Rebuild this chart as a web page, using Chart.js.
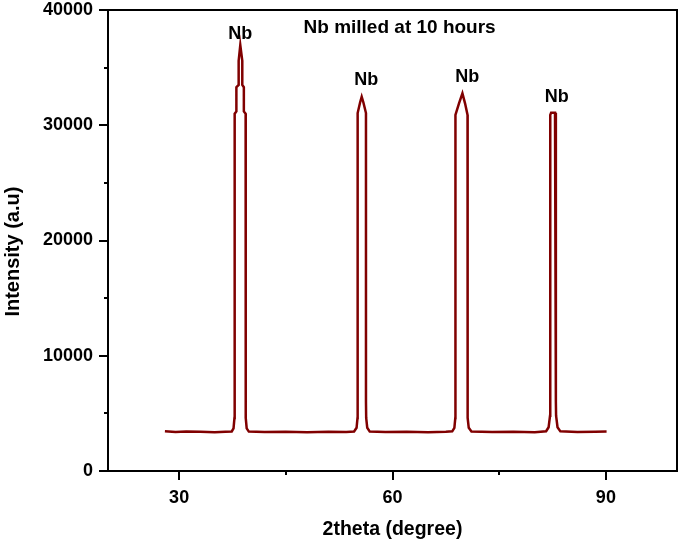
<!DOCTYPE html>
<html>
<head>
<meta charset="utf-8">
<script src="https://cdn.jsdelivr.net/npm/chart.js@4"></script>
<style>
  html, body { margin: 0; padding: 0; background: #fff; }
  #xrd { display: block; }
</style>
</head>
<body>
<canvas id="xrd" width="681" height="541"></canvas>
<script>
// XRD pattern, values
const twoTheta = [
  28.0, 29.5, 31.0, 33.0, 35.0, 36.5, 37.4, 37.65, 37.78, 37.81,
  37.81, 38.05, 38.05, 38.37, 38.37, 38.6, 38.88, 38.88, 39.1, 39.1,
  39.35, 39.35, 39.38, 39.5, 39.8, 42.0, 45.0, 48.0, 51.0, 53.5,
  54.6, 54.95, 55.08, 55.1, 55.1, 55.45, 55.67, 55.9, 56.27, 56.27,
  56.3, 56.45, 56.8, 59.0, 62.0, 65.0, 67.5, 68.4, 68.7, 68.83,
  68.85, 68.85, 69.35, 69.83, 70.2, 70.55, 70.55, 70.58, 70.72, 71.1,
  74.0, 77.0, 80.0, 81.6, 81.95, 82.15, 82.18, 82.18, 82.3, 82.85,
  82.97, 82.97, 83.0, 83.2, 83.6, 86.0, 88.5, 90.1
];
const intensity = [
  3450, 3380, 3420, 3400, 3370, 3410, 3430, 3700, 4600, 6000,
  31000, 31200, 33300, 33500, 35600, 36960, 35600, 33500, 33300, 31200,
  31000, 6000, 4600, 3700, 3420, 3380, 3400, 3360, 3410, 3390,
  3430, 3750, 4600, 6000, 31060, 32000, 32480, 32000, 31060, 6000,
  4600, 3750, 3420, 3380, 3400, 3370, 3410, 3440, 3750, 4600,
  6000, 30890, 31900, 32770, 31900, 30890, 6000, 4600, 3750, 3430,
  3380, 3400, 3370, 3450, 3800, 4800, 6000, 30900, 31090, 31090,
  30900, 6000, 4800, 3800, 3440, 3390, 3400, 3420
];

const xMajorTicks = [30, 60, 90];
const xMinorTicks = [45, 75];
const yMajorTicks = [0, 10000, 20000, 30000, 40000];
const yMinorTicks = [5000, 15000, 25000, 35000];

// text inside the plot, placed in data units
const noteText = ['Nb', 'Nb', 'Nb', 'Nb', 'Nb milled at 10 hours'];
const noteX = [38.6, 56.3, 70.5, 83.1, 61.0];
const noteY = [37900, 33930, 34190, 32450, 38440];

const FONT = '"Liberation Sans", Arial, sans-serif';

const points = twoTheta.map((t, i) => ({ x: t, y: intensity[i] }));

// frame, tick marks and notes
const framePlugin = {
  id: 'frame',
  afterDraw(chart) {
    const { ctx, chartArea: a } = chart;
    const xs = chart.scales.x, ys = chart.scales.y;
    ctx.save();
    ctx.strokeStyle = '#000';
    ctx.lineWidth = 2;
    ctx.strokeRect(a.left, a.top, a.right - a.left, a.bottom - a.top);

    ctx.beginPath();
    yMajorTicks.concat(yMinorTicks).forEach(v => {
      const len = yMajorTicks.includes(v) ? 9 : 4;
      const py = Math.round(ys.getPixelForValue(v));
      ctx.moveTo(a.left - len, py);
      ctx.lineTo(a.left, py);
    });
    xMajorTicks.concat(xMinorTicks).forEach(v => {
      const len = xMajorTicks.includes(v) ? 9 : 4;
      const px = Math.round(xs.getPixelForValue(v));
      ctx.moveTo(px, a.bottom);
      ctx.lineTo(px, a.bottom + len);
    });
    ctx.stroke();

    ctx.fillStyle = '#000';
    ctx.textAlign = 'center';
    ctx.textBaseline = 'middle';
    noteText.forEach((txt, i) => {
      ctx.font = (i === 4 ? 'bold 19px ' : 'bold 18px ') + FONT;
      ctx.fillText(txt, xs.getPixelForValue(noteX[i]), ys.getPixelForValue(noteY[i]));
    });
    ctx.restore();
  }
};

new Chart(document.getElementById('xrd'), {
  type: 'line',
  data: {
    datasets: [{
      data: points,
      borderColor: '#800000',
      borderWidth: 2.5,
      pointRadius: 0,
      tension: 0,
      fill: false
    }]
  },
  options: {
    responsive: false,
    animation: false,
    layout: { padding: { top: 10, right: 4, left: 0, bottom: 0 } },
    plugins: { legend: { display: false }, tooltip: { enabled: false } },
    scales: {
      x: {
        type: 'linear',
        min: 20,
        max: 100,
        afterBuildTicks: s => { s.ticks = xMajorTicks.concat(xMinorTicks).sort((a, b) => a - b).map(v => ({ value: v })); },
        afterFit: s => { s.height = 70; s.paddingLeft = 0; s.paddingRight = 0; },
        grid: { drawOnChartArea: false, drawTicks: false },
        border: { display: false },
        ticks: {
          autoSkip: false,
          maxRotation: 0,
          padding: 16,
          color: '#000',
          font: { family: FONT, size: 18, weight: 'bold' },
          callback: v => xMajorTicks.includes(v) ? String(v) : ''
        },
        title: {
          display: true,
          text: '2theta (degree)',
          color: '#000',
          font: { family: FONT, size: 19.5, weight: 'bold' },
          padding: { top: 0, bottom: 0 }
        }
      },
      y: {
        min: 0,
        max: 40000,
        afterBuildTicks: s => { s.ticks = yMajorTicks.concat(yMinorTicks).sort((a, b) => a - b).map(v => ({ value: v })); },
        afterFit: s => { s.width = 108; s.paddingTop = 0; s.paddingBottom = 0; },
        grid: { drawOnChartArea: false, drawTicks: false },
        border: { display: false },
        ticks: {
          autoSkip: false,
          padding: 15,
          color: '#000',
          font: { family: FONT, size: 18, weight: 'bold' },
          callback: v => yMajorTicks.includes(v) ? String(v) : ''
        },
        title: {
          display: true,
          // trailing spaces nudge the label down a little, as in the original
          text: 'Intensity (a.u)    ',
          color: '#000',
          font: { family: FONT, size: 20, weight: 'bold' },
          padding: { top: 1, bottom: 0 }
        }
      }
    }
  },
  plugins: [framePlugin]
});
</script>
</body>
</html>
